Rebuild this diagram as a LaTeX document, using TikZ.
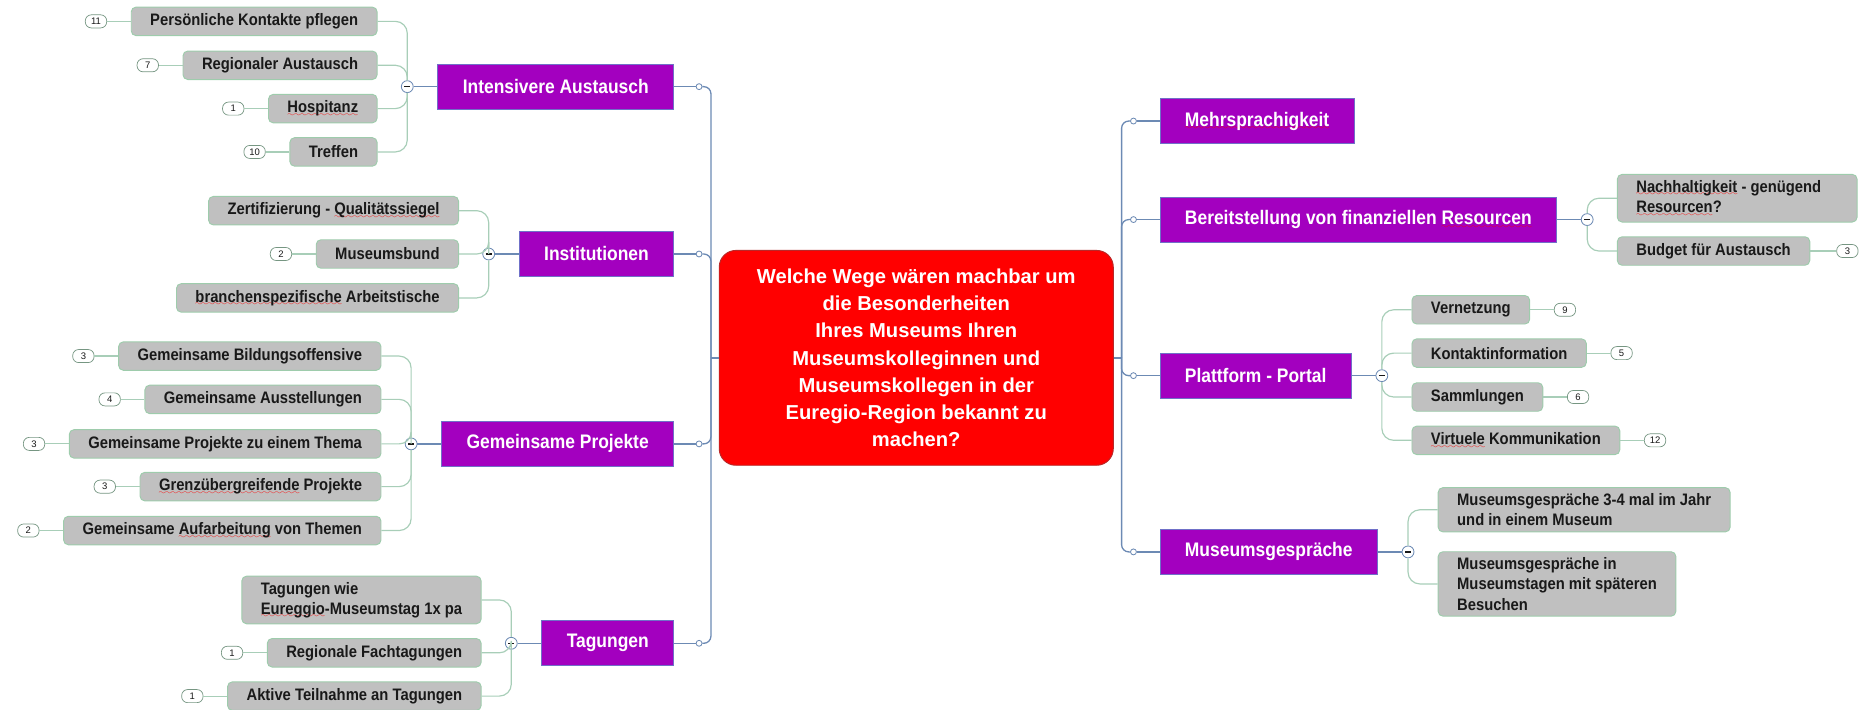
\documentclass[tikz,border=0pt]{standalone}
\usepackage{fontspec}
\setmainfont{Liberation Sans}
\newfontfamily\narrowfont{Liberation Sans}[FakeStretch=0.89]
\usetikzlibrary{positioning}

\definecolor{mmpurple}{RGB}{163,0,191}
\definecolor{mmpurpleedge}{RGB}{112,112,200}
\definecolor{mmgray}{RGB}{192,192,192}
\definecolor{mmgrayedge}{RGB}{158,204,172}
\definecolor{mmblue}{RGB}{108,138,180}
\definecolor{mmtwig}{RGB}{168,206,184}
\definecolor{mmred}{RGB}{255,0,0}
\definecolor{mmrededge}{RGB}{185,40,40}
\definecolor{mmtext}{RGB}{25,25,25}
\definecolor{mmbadge}{RGB}{118,150,130}

% red wavy spell-check line under a word
\font\wavyfont=lasy6
\newcommand\spellerr[1]{\leavevmode\setbox0\hbox{#1}\rlap{\textcolor{red}{\lower3pt\hbox to\wd0{\xleaders\hbox{\wavyfont\char58}\hfill}}}\box0\relax}

\begin{document}
\begin{tikzpicture}[x=1pt, y=-1pt,
    topic/.style={fill=mmpurple, draw=mmpurpleedge, line width=0.8pt, text=white,
      font=\narrowfont\bfseries\fontsize{16.5}{19}\selectfont, minimum height=38pt, inner xsep=21pt},
    leaf/.style={fill=mmgray, draw=mmgrayedge, line width=0.8pt, rounded corners=4pt, text=mmtext,
      font=\narrowfont\bfseries\fontsize{14}{17}\selectfont, minimum height=24pt, inner xsep=16pt, inner ysep=5pt},
    tally/.style={draw=mmbadge, fill=white, line width=0.6pt, rounded corners=5pt, minimum width=18pt,
      minimum height=11pt, inner sep=0pt, text=mmtext, font=\fontsize{8}{9}\selectfont},
    fold/.style={circle, draw=mmblue, fill=white, line width=0.7pt, minimum size=10pt, inner sep=0pt,
      path picture={\draw[mmtext, line width=1.2pt] ([xshift=-2.5pt]path picture bounding box.center)
        -- ([xshift=2.5pt]path picture bounding box.center);}},
    knob/.style={circle, draw=mmblue, fill=white, line width=0.7pt, minimum size=5pt, inner sep=0pt},
    branch/.style={draw=mmblue, line width=1.1pt},
    twig/.style={draw=mmtwig, line width=1pt, rounded corners=10pt},
  ]
    \useasboundingbox (0,0) rectangle (1568,598);

    % Central question
    \node[fill=mmred, draw=mmrededge, line width=0.8pt, rounded corners=14pt, text=white,
      font=\bfseries\fontsize{17}{23}\selectfont, align=center, minimum width=332pt,
      minimum height=181pt] (question) at (772,301.5)
      {Welche Wege wären machbar um\\ die Besonderheiten\\ Ihres Museums Ihren\\
       Museumskolleginnen und\\ Museumskollegen in der\\ Euregio-Region bekannt zu\\ machen?};
    \coordinate (trunkL) at (599,301.5);
    \coordinate (trunkR) at (945,301.5);
    \draw[branch] (trunkL) -- (question);
    \draw[branch] (question) -- (trunkR);

    % Left topics
    \node[topic, anchor=east] (austausch) at (568,73) {Intensivere Austausch};
    \node[topic, anchor=east] (institution) at (568,214) {Institutionen};
    \node[topic, anchor=east] (projekte) at (568,374) {Gemeinsame Projekte};
    \node[topic, anchor=east] (tagungen) at (568,542) {Tagungen};
    \foreach \t/\y in {austausch/73, institution/214, projekte/374, tagungen/542} {
      \node[knob] (knob-\t) at (589,\y) {};
      \draw[branch] (\t) -- (knob-\t);
      \draw[branch, rounded corners=6pt] (knob-\t) -| (trunkL);
    }

    % Intensivere Austausch
    \node[fold, left=20pt of austausch] (foldA) {};
    \draw[branch] (foldA) -- (austausch);
    \node[leaf, anchor=east] (a1) at ([xshift=-25pt]foldA |- 0,18) {Persönliche Kontakte pflegen};
    \node[leaf, anchor=east] (a2) at ([xshift=-25pt]foldA |- 0,55) {Regionaler Austausch};
    \node[leaf, anchor=east] (a3) at ([xshift=-25pt]foldA |- 0,91.5) {\spellerr{Hospitanz}};
    \node[leaf, anchor=east] (a4) at ([xshift=-25pt]foldA |- 0,128) {Treffen};
    \node[tally, left=20pt of a1] (a1n) {11};
    \node[tally, left=20pt of a2] (a2n) {7};
    \node[tally, left=20pt of a3] (a3n) {1};
    \node[tally, left=20pt of a4] (a4n) {10};
    \foreach \c in {a1, a2, a3, a4} {
      \draw[twig] (\c.east) -| (foldA);
      \draw[twig] (\c n) -- (\c);
    }

    % Institutionen
    \node[fold, left=20pt of institution] (foldB) {};
    \draw[branch] (foldB) -- (institution);
    \node[leaf, anchor=east] (b1) at ([xshift=-25pt]foldB |- 0,177.5) {Zertifizierung - \spellerr{Qualitätssiegel}};
    \node[leaf, anchor=east] (b2) at ([xshift=-25pt]foldB |- 0,214) {Museumsbund};
    \node[leaf, anchor=east] (b3) at ([xshift=-25pt]foldB |- 0,251) {\spellerr{branchenspezifische} Arbeitstische};
    \node[tally, left=20pt of b2] (b2n) {2};
    \draw[twig] (b2n) -- (b2);
    \foreach \c in {b1, b2, b3}
      \draw[twig] (\c.east) -| (foldB);

    % Gemeinsame Projekte
    \node[fold, left=20pt of projekte] (foldC) {};
    \draw[branch] (foldC) -- (projekte);
    \node[leaf, anchor=east] (c1) at ([xshift=-25pt]foldC |- 0,300) {Gemeinsame Bildungsoffensive};
    \node[leaf, anchor=east] (c2) at ([xshift=-25pt]foldC |- 0,336.5) {Gemeinsame Ausstellungen};
    \node[leaf, anchor=east] (c3) at ([xshift=-25pt]foldC |- 0,374) {Gemeinsame Projekte zu einem Thema};
    \node[leaf, anchor=east] (c4) at ([xshift=-25pt]foldC |- 0,410) {\spellerr{Grenzübergreifende} Projekte};
    \node[leaf, anchor=east] (c5) at ([xshift=-25pt]foldC |- 0,447) {Gemeinsame \spellerr{Aufarbeitung} von Themen};
    \node[tally, left=20pt of c1] (c1n) {3};
    \node[tally, left=20pt of c2] (c2n) {4};
    \node[tally, left=20pt of c3] (c3n) {3};
    \node[tally, left=20pt of c4] (c4n) {3};
    \node[tally, left=20pt of c5] (c5n) {2};
    \foreach \c in {c1, c2, c3, c4, c5} {
      \draw[twig] (\c.east) -| (foldC);
      \draw[twig] (\c n) -- (\c);
    }

    % Tagungen
    \node[fold, left=20pt of tagungen] (foldD) {};
    \draw[branch] (foldD) -- (tagungen);
    \node[leaf, anchor=east, align=left] (d1) at ([xshift=-25pt]foldD |- 0,505.5)
      {Tagungen wie\\\spellerr{Eureggio}-Museumstag 1x pa};
    \node[leaf, anchor=east] (d2) at ([xshift=-25pt]foldD |- 0,550) {Regionale Fachtagungen};
    \node[leaf, anchor=east] (d3) at ([xshift=-25pt]foldD |- 0,586.5) {Aktive Teilnahme an Tagungen};
    \node[tally, left=20pt of d2] (d2n) {1};
    \node[tally, left=20pt of d3] (d3n) {1};
    \draw[twig] (d2n) -- (d2);
    \draw[twig] (d3n) -- (d3);
    \foreach \c in {d1, d2, d3}
      \draw[twig] (\c.east) -| (foldD);

    % Right topics
    \node[topic, anchor=west] (sprachen) at (977,102) {\spellerr{Mehrsprachigkeit}};
    \node[topic, anchor=west] (ressourcen) at (977,185) {Bereitstellung von finanziellen \spellerr{Resourcen}};
    \node[topic, anchor=west] (portal) at (977,316.5) {Plattform - Portal};
    \node[topic, anchor=west] (gespraeche) at (977,465) {Museumsgespräche};
    \foreach \t/\y in {sprachen/102, ressourcen/185, portal/316.5, gespraeche/465} {
      \node[knob] (knob-\t) at (955,\y) {};
      \draw[branch, rounded corners=6pt] (trunkR) |- (knob-\t);
      \draw[branch] (knob-\t) -- (\t);
    }

    % Bereitstellung von finanziellen Resourcen
    \node[fold, right=20pt of ressourcen] (foldE) {};
    \draw[branch] (ressourcen) -- (foldE);
    \node[leaf, anchor=west, align=flush left, text width=170pt] (e1) at ([xshift=25pt]foldE |- 0,167)
      {\spellerr{Nachhaltigkeit} - genügend\\\spellerr{Resourcen}?};
    \node[leaf, anchor=west] (e2) at ([xshift=25pt]foldE |- 0,211.5) {Budget für Austausch};
    \node[tally, right=22pt of e2] (e2n) {3};
    \draw[twig] (e2) -- (e2n);
    \foreach \c in {e1, e2}
      \draw[twig] (\c.west) -| (foldE);

    % Plattform - Portal
    \node[fold, right=20pt of portal] (foldF) {};
    \draw[branch] (portal) -- (foldF);
    \node[leaf, anchor=west] (f1) at ([xshift=25pt]foldF |- 0,261) {Vernetzung};
    \node[leaf, anchor=west] (f2) at ([xshift=25pt]foldF |- 0,297.5) {Kontaktinformation};
    \node[leaf, anchor=west] (f3) at ([xshift=25pt]foldF |- 0,334.5) {Sammlungen};
    \node[leaf, anchor=west] (f4) at ([xshift=25pt]foldF |- 0,371) {\spellerr{Virtuele} Kommunikation};
    \node[tally, right=20pt of f1] (f1n) {9};
    \node[tally, right=20pt of f2] (f2n) {5};
    \node[tally, right=20pt of f3] (f3n) {6};
    \node[tally, right=20pt of f4] (f4n) {12};
    \foreach \c in {f1, f2, f3, f4} {
      \draw[twig] (\c.west) -| (foldF);
      \draw[twig] (\c) -- (\c n);
    }

    % Museumsgespraeche
    \node[fold, right=20pt of gespraeche] (foldG) {};
    \draw[branch] (gespraeche) -- (foldG);
    \node[leaf, anchor=west, align=left] (g1) at ([xshift=25pt]foldG |- 0,429.5)
      {Museumsgespräche 3-4 mal im Jahr\\und in einem Museum};
    \node[leaf, anchor=west, align=left] (g2) at ([xshift=25pt]foldG |- 0,492)
      {Museumsgespräche in\\Museumstagen mit späteren\\Besuchen};
    \foreach \c in {g1, g2}
      \draw[twig] (\c.west) -| (foldG);
\end{tikzpicture}
\end{document}
